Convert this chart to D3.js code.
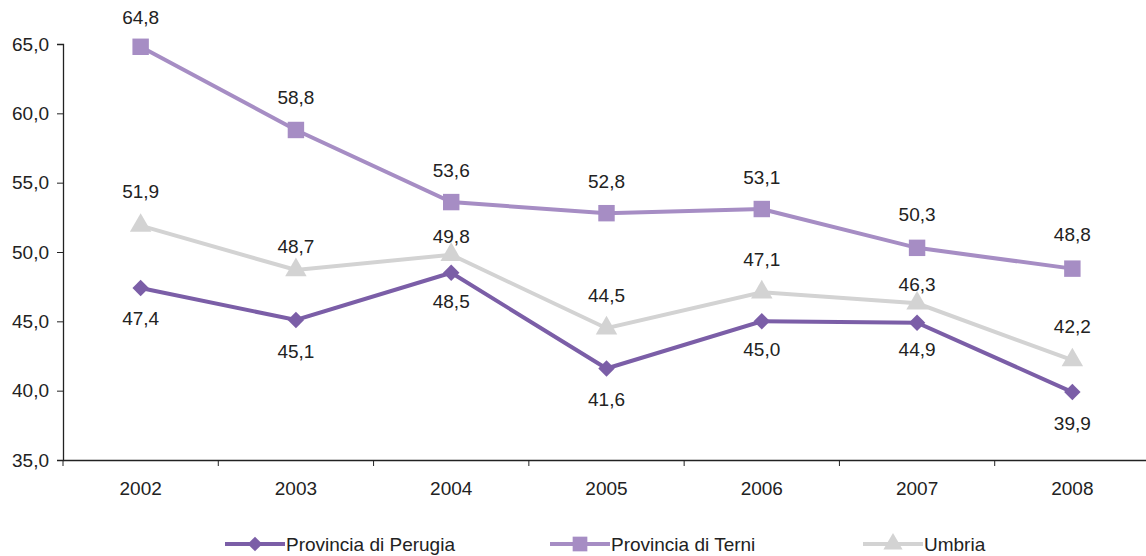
<!DOCTYPE html>
<html>
<head>
<meta charset="utf-8">
<script src="https://cdn.jsdelivr.net/npm/d3@7"></script>
<style>
  body { margin: 0; background: #fff; }
  text { font-family: Arial, "Liberation Sans", sans-serif; fill: #222; }
</style>
</head>
<body>
<div id="vis"></div>
<script>
var years = ['2002', '2003', '2004', '2005', '2006', '2007', '2008'];
var perugia = [47.4, 45.1, 48.5, 41.6, 45.0, 44.9, 39.9];
var terni = [64.8, 58.8, 53.6, 52.8, 53.1, 50.3, 48.8];
var umbria = [51.9, 48.7, 49.8, 44.5, 47.1, 46.3, 42.2];
var yTicks = [35, 40, 45, 50, 55, 60, 65];

var width = 1146, height = 556;
var margin = { left: 63, right: -4, top: 44, bottom: 96 };
var fontSize = '19px';

var fmt = function(v) { return v.toFixed(1).replace('.', ','); };

// label offsets (px) from the marker; umbria labels were nudged in the original
var series = [
  { name: 'Provincia di Perugia', values: perugia, color: '#7b5ea7', symbol: d3.symbolSquare, rot: 45, size: 135,
    labelDy: [30, 31, 29, 31, 28, 27, 31] },
  { name: 'Provincia di Terni', values: terni, color: '#a68dc4', symbol: d3.symbolSquare, rot: 0, size: 270,
    labelDy: [-29, -33, -32, -32, -32, -33, -34] },
  { name: 'Umbria', values: umbria, color: '#d3d3d3', symbol: d3.symbolTriangle, rot: 0, size: 200,
    labelDy: [-34, -24, -18, -33, -33, -19, -34] }
];

var svg = d3.select('#vis').append('svg')
  .attr('width', width)
  .attr('height', height);

var x = d3.scaleBand()
  .domain(years)
  .range([margin.left, width - margin.right]);

var y = d3.scaleLinear()
  .domain([35, 65])
  .range([height - margin.bottom, margin.top]);

// y axis
var yAxis = svg.append('g')
  .attr('transform', 'translate(' + margin.left + ',0)')
  .call(d3.axisLeft(y).tickValues(yTicks).tickFormat(fmt).tickSize(6).tickPadding(8));
yAxis.select('.domain').attr('stroke', '#222').attr('stroke-width', 1.3);
yAxis.selectAll('.tick line').attr('stroke', '#222');
yAxis.selectAll('text').style('font-size', fontSize).attr('fill', '#222');

// x axis
var xAxis = svg.append('g')
  .attr('transform', 'translate(0,' + y(35) + ')')
  .call(d3.axisBottom(x).tickSize(0).tickPadding(22));
xAxis.select('.domain').attr('stroke', '#222').attr('stroke-width', 1.3);
xAxis.selectAll('text').style('font-size', fontSize).attr('fill', '#222');

// band boundary ticks
xAxis.selectAll('.bound')
  .data(years)
  .enter().append('line')
  .attr('x1', function(d) { return x(d); })
  .attr('x2', function(d) { return x(d); })
  .attr('y1', 0).attr('y2', 6)
  .attr('stroke', '#222');

var cx = function(i) { return x(years[i]) + x.bandwidth() / 2; };

var line = d3.line()
  .x(function(d, i) { return cx(i); })
  .y(function(d) { return y(d); });

// draw Umbria first, then Terni, then Perugia on top
var drawOrder = [series[2], series[1], series[0]];

drawOrder.forEach(function(s) {
  svg.append('path')
    .datum(s.values)
    .attr('fill', 'none')
    .attr('stroke', s.color)
    .attr('stroke-width', 4)
    .attr('d', line);

  svg.selectAll(null)
    .data(s.values)
    .enter().append('path')
    .attr('d', d3.symbol().type(s.symbol).size(s.size))
    .attr('fill', s.color)
    .attr('transform', function(d, i) {
      return 'translate(' + cx(i) + ',' + y(d) + ') rotate(' + s.rot + ')';
    });
});

series.forEach(function(s) {
  svg.selectAll(null)
    .data(s.values)
    .enter().append('text')
    .attr('x', function(d, i) { return cx(i); })
    .attr('y', function(d, i) { return y(d) + s.labelDy[i]; })
    .attr('dy', '0.35em')
    .attr('text-anchor', 'middle')
    .style('font-size', fontSize)
    .text(fmt);
});

// legend
var legendX = [225, 550, 863];
var legend = svg.selectAll('.legend')
  .data(series)
  .enter().append('g')
  .attr('transform', function(d, i) { return 'translate(' + legendX[i] + ',544)'; });

legend.append('line')
  .attr('x1', 0).attr('x2', 60)
  .attr('stroke', function(d) { return d.color; })
  .attr('stroke-width', 4);

legend.append('path')
  .attr('d', function(d) { return d3.symbol().type(d.symbol).size(d.size * 0.8)(); })
  .attr('fill', function(d) { return d.color; })
  .attr('transform', function(d) { return 'translate(30,0) rotate(' + d.rot + ')'; });

legend.append('text')
  .attr('x', 61)
  .attr('dy', '0.35em')
  .style('font-size', fontSize)
  .text(function(d) { return d.name; });
</script>
</body>
</html>
